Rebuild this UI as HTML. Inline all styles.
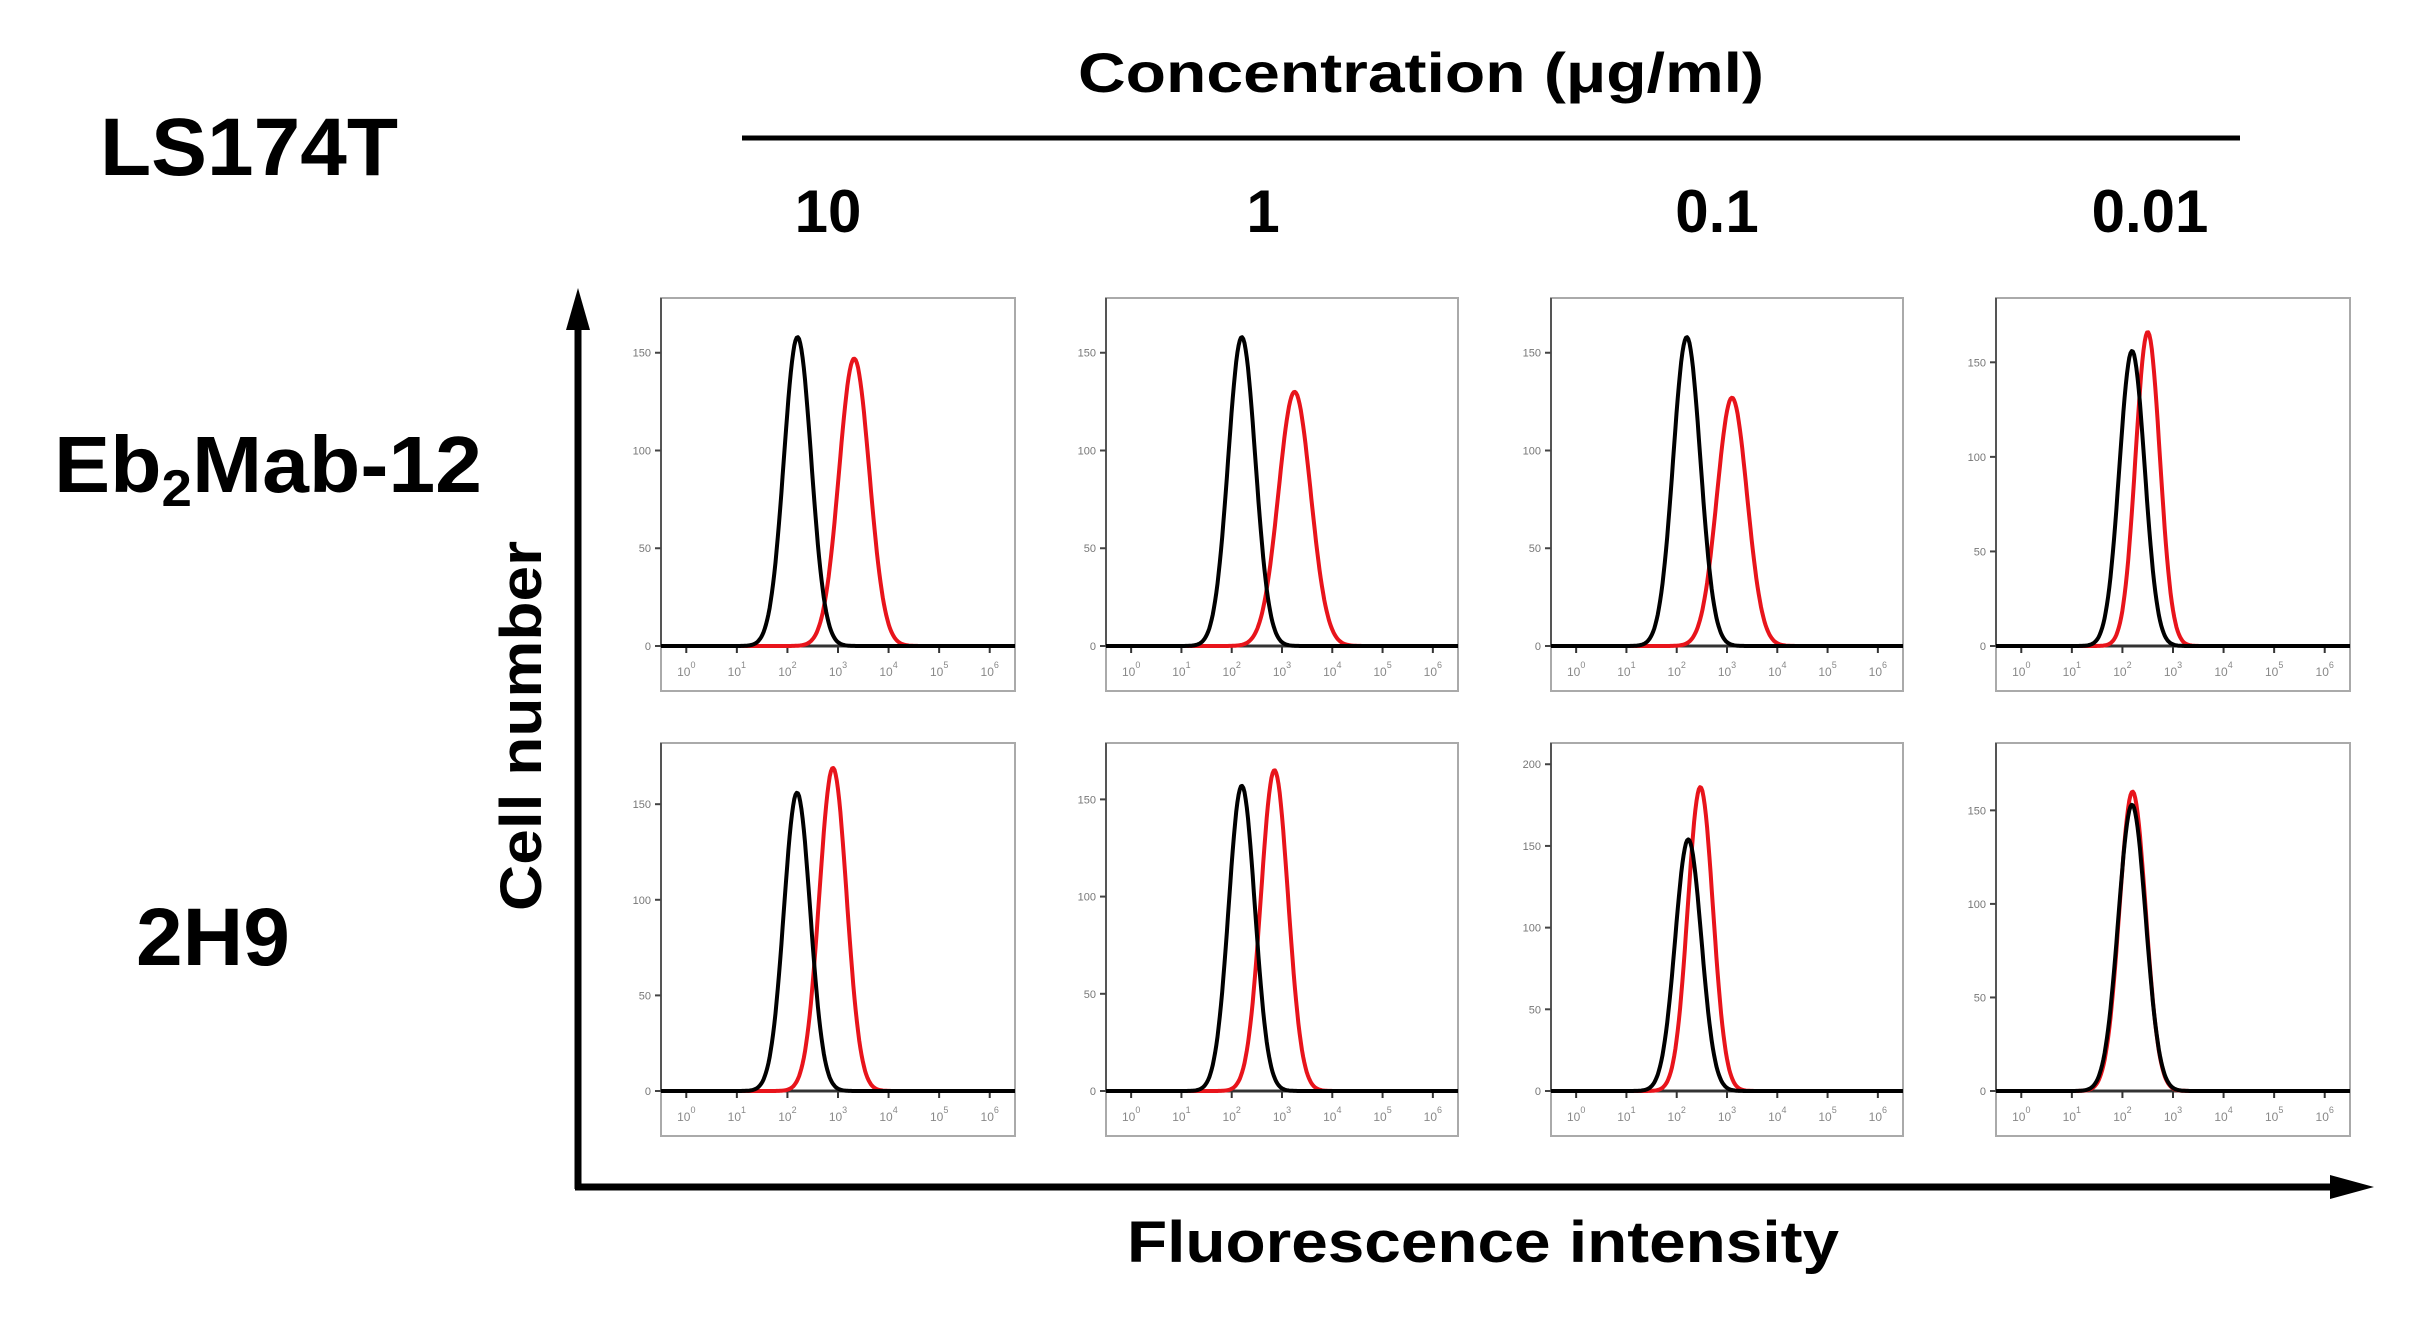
<!DOCTYPE html>
<html><head><meta charset="utf-8"><style>
html,body{margin:0;padding:0;background:#fff;}
svg{display:block;}
text{font-family:"Liberation Sans",Arial,sans-serif;}
</style></head><body>
<svg id="fig" width="2424" height="1326" viewBox="0 0 2424 1326" xmlns="http://www.w3.org/2000/svg">
<text x="100" y="175" font-size="82" font-weight="bold" textLength="298" lengthAdjust="spacingAndGlyphs">LS174T</text>
<text x="1421" y="92" font-size="56" font-weight="bold" text-anchor="middle" textLength="686" lengthAdjust="spacingAndGlyphs">Concentration (μg/ml)</text>
<line x1="742" y1="138" x2="2240" y2="138" stroke="#000" stroke-width="5"/>
<text x="828" y="232" font-size="60" font-weight="bold" text-anchor="middle">10</text>
<text x="1263" y="232" font-size="60" font-weight="bold" text-anchor="middle">1</text>
<text x="1717" y="232" font-size="60" font-weight="bold" text-anchor="middle">0.1</text>
<text x="2150" y="232" font-size="60" font-weight="bold" text-anchor="middle">0.01</text>
<text x="54" y="492" font-size="80" font-weight="bold" textLength="428" lengthAdjust="spacingAndGlyphs">Eb<tspan font-size="52" dy="14">2</tspan><tspan dy="-14">Mab-12</tspan></text>
<text x="136" y="965" font-size="82" font-weight="bold" textLength="154" lengthAdjust="spacingAndGlyphs">2H9</text>
<text transform="translate(541,726) rotate(-90)" font-size="58" font-weight="bold" text-anchor="middle" textLength="370" lengthAdjust="spacingAndGlyphs">Cell number</text>
<text x="1483" y="1262" font-size="58" font-weight="bold" text-anchor="middle" textLength="712" lengthAdjust="spacingAndGlyphs">Fluorescence intensity</text>
<line x1="578" y1="1189" x2="578" y2="320" stroke="#000" stroke-width="7"/>
<polygon points="566,330 590,330 578,288" fill="#000"/>
<line x1="575" y1="1187" x2="2335" y2="1187" stroke="#000" stroke-width="7"/>
<polygon points="2330,1175 2330,1199 2374,1187" fill="#000"/>
<g id="panels"></g>
</svg>
<script>
// Panel data (row-major: row1 Eb2Mab-12, row2 2H9; columns 10,1,0.1,0.01)
const concentrations = ["10","1","0.1","0.01"];
const antibodies = ["Eb2Mab-12","2H9"];
const blackPeakLog = [2.2,2.2,2.2,2.19, 2.19,2.2,2.23,2.19];
const blackPeakHeight = [158,158,158,156, 156,157,154,153];
const blackSigma = [0.27,0.27,0.27,0.25, 0.26,0.26,0.26,0.27];
const redPeakLog = [3.32,3.25,3.1,2.5, 2.9,2.85,2.47,2.2];
const redPeakHeight = [147,130,127,166, 169,165,186,160];
const redSigma = [0.3,0.32,0.3,0.24, 0.27,0.27,0.25,0.26];
const yMax = [178,178,178,184, 182,179,213,186];
const yTicks = [[0,50,100,150],[0,50,100,150],[0,50,100,150],[0,50,100,150],
                [0,50,100,150],[0,50,100,150],[0,50,100,150,200],[0,50,100,150]];
const xTickLabels = ["0","1","2","3","4","5","6"];

const colLeft=[661,1106,1551,1996], colRight=[1015,1458,1903,2350];
const rowTop=[298,743], rowBase=[646,1091], rowBottom=[691,1136];
const NS="http://www.w3.org/2000/svg";
const root=document.getElementById('panels');
function mk(tag,attrs,parent){const e=document.createElementNS(NS,tag);for(const k in attrs)e.setAttribute(k,attrs[k]);(parent||root).appendChild(e);return e;}
const LOGMIN=-0.5, LOGMAX=6.5;
for(let r=0;r<2;r++)for(let c=0;c<4;c++){
  const i=r*4+c;
  const L=colLeft[c],R=colRight[c],T=rowTop[r],B=rowBase[r],BB=rowBottom[r];
  const g=mk('g',{});
  
  
  const xs=v=>L+(v-LOGMIN)/(LOGMAX-LOGMIN)*(R-L);
  const ys=v=>B-v/yMax[i]*(B-T);
  const frame=mk('rect',{x:L,y:T,width:R-L,height:BB-T,fill:'none',stroke:'#aaa','stroke-width':2},g);
  
  
  const ax=mk('line',{x1:L,y1:T,x2:L,y2:B,stroke:'#555','stroke-width':2},g);
  
  
  const bx=mk('line',{x1:L,y1:B,x2:R,y2:B,stroke:'#333','stroke-width':3},g);
  
  
  yTicks[i].forEach(t=>{
    const y=ys(t);
    const tk=mk('line',{x1:L-6,y1:y,x2:L,y2:y,stroke:'#444','stroke-width':2},g);
    
    
    const tl=mk('text',{x:L-10,y:y+4,'font-size':11,fill:'#777','text-anchor':'end'},g);
    
    
    tl.textContent=t;
  });
  xTickLabels.forEach((lab,k)=>{
    const x=xs(+lab);
    const tk=mk('line',{x1:x,y1:B,x2:x,y2:B+7,stroke:'#333','stroke-width':2},g);
    
    
    const tl=mk('text',{x:x,y:B+30,'font-size':12,fill:'#888','text-anchor':'middle'},g);
    
    
    tl.textContent='10';
    const ex=mk('tspan',{dy:-8,'font-size':9},tl);
    ex.textContent=lab;
  });
  function curve(mu,h,s,color,name){
    let d='';
    for(let k=0;k<=300;k++){
      const v=LOGMIN+(LOGMAX-LOGMIN)*k/300;
      const y=h*Math.exp(-0.5*((v-mu)/s)**2);
      d+=(k?'L':'M')+xs(v).toFixed(1)+','+ys(y).toFixed(1);
    }
    const p=mk('path',{d:d,fill:'none',stroke:color,'stroke-width':4,'stroke-linejoin':'round'},g);
    
    
  }
  curve(redPeakLog[i],redPeakHeight[i],redSigma[i],'#e8141b','antibody-histogram');
  curve(blackPeakLog[i],blackPeakHeight[i],blackSigma[i],'#000','control-histogram');
}
</script>
</body></html>
